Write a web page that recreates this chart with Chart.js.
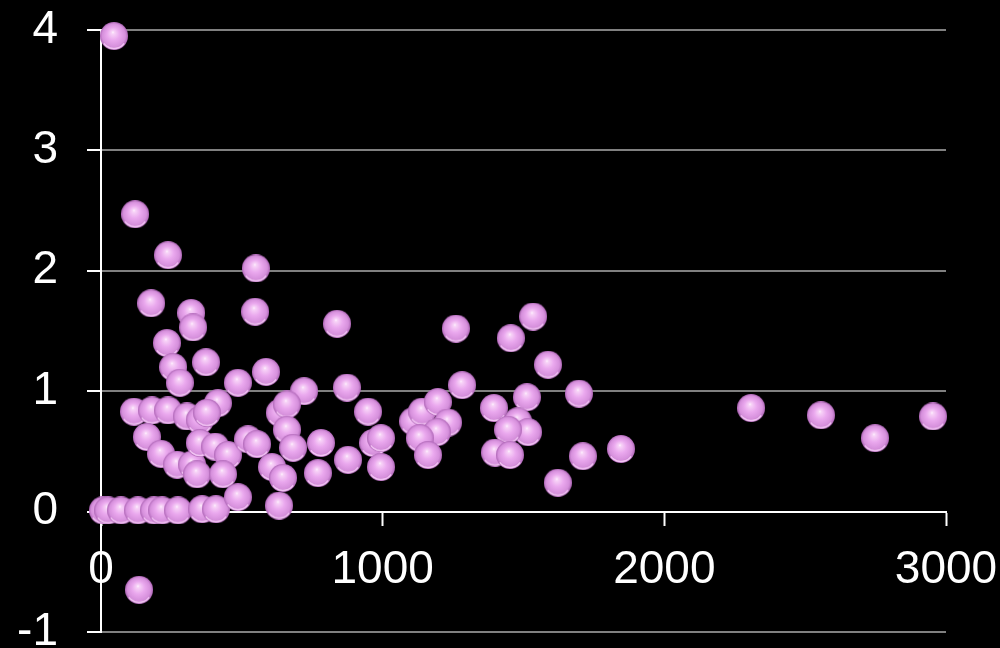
<!DOCTYPE html>
<html>
<head>
<meta charset="utf-8">
<script src="https://cdn.jsdelivr.net/npm/chart.js@4/dist/chart.umd.min.js"></script>
<style>
  html, body { margin: 0; padding: 0; background: #000; }
  canvas { display: block; }
</style>
</head>
<body>
<canvas id="chart" width="1000" height="648"></canvas>
<script>
// valores (x, y)
const xVals = [46, 121, 238, 550, 178, 547, 320, 327, 838, 1260, 1534, 1455, 234, 373, 256, 586, 280, 486, 1587, 1282,
  873, 721, 1697, 1512, 2308, 2556, 2954, 2748, 1622, 1711, 1846,
  7, 25, 71, 131, 188, 217, 273, 359, 408,
  117, 181, 238, 305, 351, 415, 376, 163, 213, 270, 323, 341, 351, 405, 451, 433, 522, 554, 635, 660,
  660, 682, 607, 646, 486, 632, 770, 781, 877, 948, 966, 994, 994, 1108, 1140, 1196, 1232, 1193, 1132, 1161,
  1395, 1480, 1516, 1445, 1399, 1452, 135];
const yVals = [3.95, 2.47, 2.13, 2.02, 1.73, 1.66, 1.65, 1.53, 1.56, 1.52, 1.62, 1.44, 1.40, 1.24, 1.20, 1.16, 1.07, 1.07, 1.22, 1.05,
  1.03, 1.00, 0.98, 0.95, 0.86, 0.80, 0.79, 0.61, 0.24, 0.46, 0.52,
  0.01, 0.01, 0.01, 0.01, 0.01, 0.01, 0.01, 0.02, 0.02,
  0.83, 0.84, 0.84, 0.79, 0.76, 0.90, 0.82, 0.62, 0.48, 0.39, 0.39, 0.31, 0.57, 0.54, 0.47, 0.31, 0.60, 0.56, 0.82, 0.89,
  0.68, 0.53, 0.37, 0.28, 0.12, 0.05, 0.32, 0.57, 0.43, 0.83, 0.57, 0.61, 0.37, 0.75, 0.83, 0.91, 0.74, 0.66, 0.61, 0.47,
  0.86, 0.75, 0.66, 0.68, 0.49, 0.47, -0.65];
const xTicks = [0, 1000, 2000, 3000];
const yTicks = [-1, 0, 1, 2, 3, 4];

const FONT = '"Liberation Sans", Arial, sans-serif';

// bolita con brillo, usada como pointStyle
function makeBall(r) {
  const c = document.createElement('canvas');
  c.width = c.height = r * 2;
  const g = c.getContext('2d');
  const grad = g.createRadialGradient(r * 0.92, r * 0.72, 0, r, r, r);
  grad.addColorStop(0, '#fff8ff');
  grad.addColorStop(0.1, '#f8d4f8');
  grad.addColorStop(0.45, '#eaa8ee');
  grad.addColorStop(0.82, '#d690dc');
  grad.addColorStop(1, '#b068b8');
  g.fillStyle = grad;
  g.beginPath(); g.arc(r, r, r, 0, Math.PI * 2); g.fill();
  // reflejo claro abajo
  g.strokeStyle = 'rgba(252, 210, 252, 0.85)';
  g.lineWidth = 1.6;
  g.beginPath(); g.arc(r, r, r - 1.5, Math.PI * 0.2, Math.PI * 0.8); g.stroke();
  return c;
}

const points = xVals.map((x, i) => ({ x, y: yVals[i] }));

new Chart(document.getElementById('chart').getContext('2d'), {
  type: 'scatter',
  data: { datasets: [{ data: points, pointStyle: makeBall(14), clip: false }] },
  options: {
    responsive: false, animation: false, devicePixelRatio: 1,
    layout: { padding: { top: 30, right: 54, bottom: 16, left: 0 } },
    plugins: { legend: { display: false }, tooltip: { enabled: false } },
    scales: {
      x: {
        type: 'linear', min: 0, max: 3000, position: { y: 0 },
        afterBuildTicks: s => { s.ticks = xTicks.map(v => ({ value: v })); },
        afterFit: s => { s.paddingLeft = 0; s.paddingRight = 0; },
        ticks: { color: '#fff', font: { family: FONT, size: 46 }, padding: 18, maxRotation: 0, autoSkip: false,
          callback: v => String(v) },
        grid: { drawOnChartArea: false, color: '#fff', tickLength: 13, tickWidth: 2 },
        border: { color: '#fff', width: 2 }
      },
      y: {
        min: -1, max: 4,
        afterBuildTicks: s => { s.ticks = yTicks.map(v => ({ value: v })); },
        afterFit: s => { s.width = 101; s.paddingTop = 0; s.paddingBottom = 0; },
        ticks: { color: '#fff', font: { family: FONT, size: 46 }, padding: 29, callback: v => String(v) },
        grid: { color: '#808080', lineWidth: 2, tickColor: '#fff', tickLength: 14, tickWidth: 2 },
        border: { color: '#fff', width: 2 }
      }
    }
  }
});
</script>
</body>
</html>
